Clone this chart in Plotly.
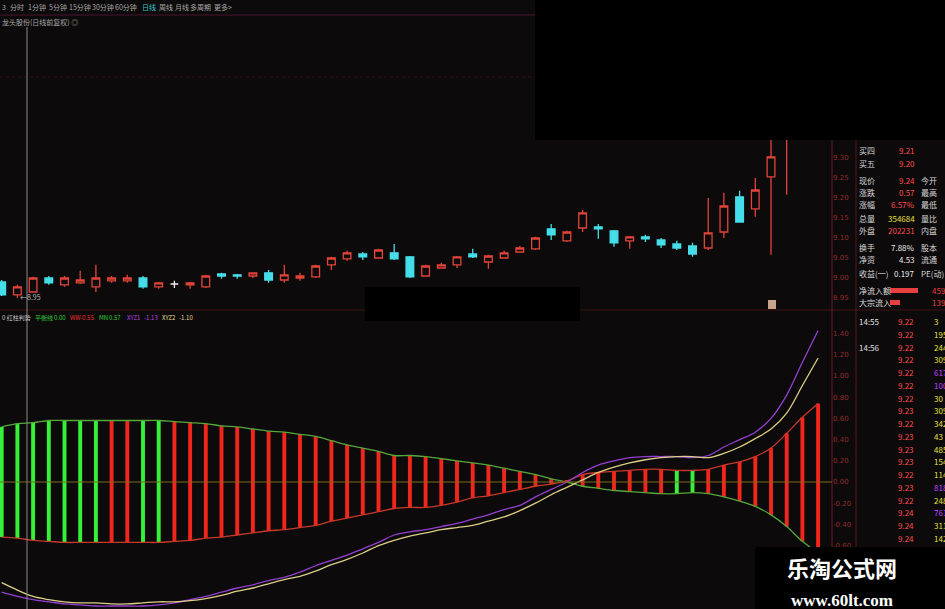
import plotly.graph_objects as go

# ---------------- data ----------------
idx = list(range(53))

opens = [8.990, 8.958, 8.965, 9.000, 8.983, 8.988, 8.978, 8.993, 8.993, 9.000,
         8.978, 8.985, 8.983, 8.978, 9.010, 9.008, 9.005, 9.013, 8.995, 9.000,
         9.003, 9.033, 9.048, 9.060, 9.050, 9.063, 9.053, 9.005, 9.025, 9.033,
         9.060, 9.040, 9.050, 9.065, 9.073, 9.123, 9.093, 9.125, 9.128, 9.118,
         9.093, 9.103, 9.095, 9.085, 9.080, 9.075, 9.115, 9.203, 9.173, 9.253,
         9.383, 9.460, 9.580]
highs = [8.995, 8.983, 9.003, 9.005, 9.005, 9.018, 9.033, 9.005, 9.008, 9.005,
         8.990, 8.993, 8.990, 9.008, 9.013, 9.010, 9.013, 9.020, 9.033, 9.013,
         9.033, 9.053, 9.068, 9.065, 9.073, 9.085, 9.055, 9.033, 9.038, 9.055,
         9.073, 9.058, 9.068, 9.080, 9.103, 9.135, 9.118, 9.170, 9.135, 9.120,
         9.105, 9.108, 9.100, 9.093, 9.088, 9.200, 9.213, 9.218, 9.250, 9.445,
         9.545, 9.620, 9.750]
lows = [8.955, 8.950, 8.963, 8.983, 8.978, 8.985, 8.965, 8.988, 8.988, 8.973,
        8.973, 8.975, 8.973, 8.975, 8.998, 8.998, 9.000, 8.988, 8.988, 8.993,
        9.000, 9.020, 9.043, 9.045, 9.048, 9.045, 9.000, 9.003, 9.023, 9.025,
        9.050, 9.023, 9.048, 9.063, 9.070, 9.095, 9.090, 9.115, 9.098, 9.078,
        9.073, 9.090, 9.075, 9.070, 9.053, 9.070, 9.100, 9.138, 9.153, 9.058,
        9.208, 9.420, 9.550]
closes = [8.958, 8.978, 9.000, 8.988, 9.000, 8.995, 9.000, 9.000, 9.000, 8.978,
          8.988, 8.985, 8.988, 9.005, 9.005, 9.005, 9.013, 8.995, 9.008, 9.005,
          9.030, 9.050, 9.063, 9.053, 9.070, 9.048, 9.003, 9.030, 9.033, 9.053,
          9.053, 9.055, 9.063, 9.075, 9.100, 9.108, 9.115, 9.163, 9.123, 9.088,
          9.103, 9.098, 9.083, 9.075, 9.060, 9.113, 9.180, 9.140, 9.220, 9.303,
          9.458, 9.580, 9.700]

# indicator 红柱判势
mn_line = [0.52, 0.55, 0.56, 0.58, 0.58, 0.58, 0.58, 0.58, 0.58, 0.58, 0.58,
           0.57, 0.56, 0.55, 0.53, 0.52, 0.50, 0.48, 0.47, 0.45, 0.43,
           0.39, 0.35, 0.32, 0.29, 0.25, 0.25, 0.24, 0.22, 0.20, 0.18,
           0.16, 0.13, 0.10, 0.07, 0.03, 0.00, -0.04, -0.06, -0.08, -0.09,
           -0.10, -0.11, -0.11, -0.10, -0.11, -0.14, -0.18, -0.23, -0.31, -0.42, -0.56, -0.67]
ww_line = [-0.52, -0.53, -0.55, -0.56, -0.57, -0.57, -0.57, -0.57, -0.57, -0.57, -0.57,
           -0.56, -0.55, -0.53, -0.52, -0.50, -0.48, -0.46, -0.45, -0.43, -0.41,
           -0.37, -0.34, -0.31, -0.28, -0.25, -0.24, -0.24, -0.22, -0.19, -0.15,
           -0.13, -0.10, -0.07, -0.04, -0.02, 0.01, 0.07, 0.09, 0.10, 0.11,
           0.12, 0.12, 0.11, 0.11, 0.12, 0.16, 0.19, 0.24, 0.32, 0.46, 0.61, 0.74]
xyz1 = [-1.04, -1.08, -1.11, -1.13, -1.15, -1.16, -1.17, -1.17, -1.17, -1.17, -1.16,
        -1.14, -1.11, -1.08, -1.04, -1.00, -0.97, -0.93, -0.90, -0.85, -0.79,
        -0.74, -0.69, -0.63, -0.57, -0.50, -0.47, -0.45, -0.42, -0.39, -0.35,
        -0.31, -0.26, -0.22, -0.14, -0.07, 0.00, 0.09, 0.16, 0.20, 0.23,
        0.24, 0.24, 0.24, 0.23, 0.25, 0.33, 0.40, 0.47, 0.60, 0.82, 1.13, 1.43]
xyz2 = [-0.95, -1.02, -1.08, -1.11, -1.13, -1.14, -1.14, -1.15, -1.15, -1.14, -1.13,
        -1.13, -1.12, -1.10, -1.07, -1.03, -1.00, -0.96, -0.92, -0.89, -0.84,
        -0.78, -0.73, -0.67, -0.60, -0.55, -0.51, -0.48, -0.45, -0.43, -0.41,
        -0.37, -0.33, -0.27, -0.20, -0.12, -0.05, 0.02, 0.09, 0.14, 0.18,
        0.21, 0.23, 0.24, 0.24, 0.23, 0.27, 0.33, 0.41, 0.50, 0.65, 0.91, 1.17]
bar_kind = "gggggggrrggrrrrrrrrrrrrrrrrrrrrrrrrrrrrrrrrggrrrrrrrr"

price_ticks = [8.95, 9.00, 9.05, 9.10, 9.15, 9.20, 9.25, 9.30]
ind_ticks = [1.4, 1.2, 1.0, 0.8, 0.6, 0.4, 0.2, 0.0, -0.2, -0.4, -0.6, -0.8, -1.0]

toolbar_items = ["3", "分时", "1分钟", "5分钟", "15分钟", "30分钟", "60分钟",
                 "日线", "周线", "月线", "多周期", "更多>"]
stock_title = "龙头股份(日线前复权) ◎"
low_mark = "←8.95"

ind_title = [("0 红柱判势", "#c8c8c8"), ("平衡线", "#2fd23a"), ("0.00", "#2fd23a"),
             ("WW", "#f03030"), ("-0.55", "#f03030"), ("MN", "#2fd23a"), ("0.57", "#2fd23a"),
             ("XYZ1", "#b444e8"), ("-1.13", "#b444e8"), ("XYZ2", "#e6dc96"), ("-1.10", "#e6dc96")]

quote_labels = ["买四", "买五", "现价", "涨跌", "涨幅", "总量", "外盘", "换手", "净资",
                "收益(一)", "净流入额", "大宗流入"]
quote_values = ["9.21", "9.20", "9.24", "0.57", "6.57%", "354684", "202231", "7.88%",
                "4.53", "0.197", "4598", "1398"]
quote_right = ["", "", "今开", "最高", "最低", "量比", "内盘", "股本", "流通", "PE(动)", "", ""]

tick_times = ["14:55", "", "14:56", "", "", "", "", "", "", "", "", "", "", "", "", "", "", ""]
tick_prices = ["9.22", "9.22", "9.22", "9.22", "9.22", "9.22", "9.22", "9.23", "9.22",
               "9.23", "9.23", "9.23", "9.22", "9.23", "9.22", "9.24", "9.24", "9.24"]
tick_vols = ["3", "195", "244", "309", "617", "1003", "30", "309", "342", "43", "485",
             "154", "114", "818", "248", "761", "311", "142"]
tick_big = [False, False, False, False, True, True, False, False, False, False, False,
            False, False, True, False, True, False, False]

watermark_name = "乐淘公式网"
watermark_url = "www.60lt.com"

# ---------------- styling / layout ----------------
W, H = 945, 609
BG = "#0c0a0a"
RED = "#e2443a"
CYAN = "#44dde8"
AXC = "#8e2c2c"
CJK = "Noto Sans CJK SC"


def px(x):
    return x / W


def py(y):
    return 1 - y / H


X0 = -1.7 / 15.7
X1 = (832 - 1.7) / 15.7

up = [i for i in idx if closes[i] > opens[i]]
dn = [i for i in idx if closes[i] < opens[i]]
dj = [i for i in idx if closes[i] == opens[i]]

fig = go.Figure()


def add_candles(sel, lc, fc):
    fig.add_trace(go.Candlestick(
        x=[idx[i] for i in sel], open=[opens[i] for i in sel], high=[highs[i] for i in sel],
        low=[lows[i] for i in sel], close=[closes[i] for i in sel],
        increasing=dict(line=dict(color=lc, width=1.3), fillcolor=fc),
        decreasing=dict(line=dict(color=lc, width=1.3), fillcolor=fc),
        whiskerwidth=0, xaxis="x", yaxis="y", showlegend=False, hoverinfo="skip"))


add_candles(up, RED, BG)
add_candles(dn, CYAN, CYAN)
add_candles(dj, "#f0f0f0", "#f0f0f0")

bar_col = ["#36f03a" if k == "g" else "#f0261c" for k in bar_kind]
fig.add_trace(go.Bar(x=idx, y=[mn_line[i] - ww_line[i] for i in idx], base=ww_line,
                     width=0.25, marker=dict(color=bar_col, line=dict(width=0)),
                     xaxis="x2", yaxis="y2", showlegend=False, hoverinfo="skip"))
fig.add_trace(go.Scatter(x=idx, y=mn_line, mode="lines",
                         line=dict(color="#55a83c", width=1.3, shape="spline"),
                         xaxis="x2", yaxis="y2", showlegend=False, hoverinfo="skip"))
fig.add_trace(go.Scatter(x=idx, y=ww_line, mode="lines",
                         line=dict(color="#c8382a", width=1.3, shape="spline"),
                         xaxis="x2", yaxis="y2", showlegend=False, hoverinfo="skip"))
fig.add_trace(go.Scatter(x=idx, y=xyz1, mode="lines",
                         line=dict(color="#9440d0", width=1.3, shape="spline"),
                         xaxis="x2", yaxis="y2", showlegend=False, hoverinfo="skip"))
fig.add_trace(go.Scatter(x=idx, y=xyz2, mode="lines",
                         line=dict(color="#dccf86", width=1.3, shape="spline"),
                         xaxis="x2", yaxis="y2", showlegend=False, hoverinfo="skip"))

shapes = []


def hline(y, x0, x1, color, width=1, dash="solid"):
    shapes.append(dict(type="line", xref="paper", yref="paper", x0=px(x0), x1=px(x1),
                       y0=py(y), y1=py(y), line=dict(color=color, width=width, dash=dash)))


def vline(x, y0, y1, color, width=1):
    shapes.append(dict(type="line", xref="paper", yref="paper", x0=px(x), x1=px(x),
                       y0=py(y0), y1=py(y1), line=dict(color=color, width=width)))


def rect(x0, y0, x1, y1, color, layer="above"):
    shapes.append(dict(type="rect", xref="paper", yref="paper", x0=px(x0), x1=px(x1),
                       y0=py(y1), y1=py(y0), fillcolor=color, line=dict(width=0), layer=layer))


hline(15, 0, 945, "#4c1430")
hline(77, 0, 832, "#2e1014", dash="dot")
hline(310, 0, 945, "#3c1212")
vline(832, 0, 609, "#6e1c1c")
vline(856, 0, 609, "#5a1616")
vline(27, 27, 609, "#8a8a8a")
shapes.append(dict(type="line", xref="paper", yref="y2", x0=0, x1=px(832), y0=0, y1=0,
                   line=dict(color="#7d6a22", width=1)))
rect(535, 0, 945, 140, "#000000")
rect(365, 287, 580, 321, "#000000")
rect(755, 547, 945, 609, "#000000")
rect(768, 300, 776, 309, "#c9a48a")
rect(890, 288, 918, 293, "#e64040")
rect(890, 300, 900, 305, "#e64040")

ann = []


def txt(x, y, s, color, size=7, anchor="left", family=CJK):
    ann.append(dict(text=s, xref="paper", yref="paper", x=px(x), y=py(y), xanchor=anchor,
                    yanchor="middle", showarrow=False,
                    font=dict(family=family, size=size, color=color)))


toolbar_x = [0, 8, 26, 47, 67, 90, 113, 140, 157, 173, 188, 212]
for s, x in zip(toolbar_items, toolbar_x):
    txt(x, 7, s, "#35c8d0" if s == "日线" else "#a8a8a8", size=7)
txt(0, 22, stock_title, "#a8a8a8", size=7)
txt(18, 297, low_mark, "#b8b8b8", size=7)

title_x = [0, 33, 52, 68, 78, 97, 107, 125, 142, 160, 177]
for (s, c), x in zip(ind_title, title_x):
    txt(x, 317, s, c, size=6)

quote_y = [150, 163, 181, 193, 205, 218, 230, 248, 260, 273, 290, 303]
for i, y in enumerate(quote_y):
    lab = quote_labels[i]
    txt(857, y, lab, "#d8d8d8", size=8)
    val = quote_values[i]
    if i >= 10:
        txt(930, y, val, "#e64040", size=8)
    else:
        if i == 5:
            vc = "#e6e040"
        elif i in (7, 8, 9):
            vc = "#e8e8e8"
        else:
            vc = "#ff4a4a"
        txt(917, y, val, vc, size=8, anchor="right")
    if quote_right[i]:
        txt(919, y, quote_right[i], "#d8d8d8", size=8)

for i in range(len(tick_prices)):
    y = 321.7 + 12.75 * i
    if tick_times[i]:
        txt(857, y, tick_times[i], "#e0e0e0", size=8)
    txt(916, y, tick_prices[i], "#ff4a4a", size=8, anchor="right")
    txt(932, y, tick_vols[i], "#c040ff" if tick_big[i] else "#e6e040", size=8)

wm_text = ("<b>" + watermark_name + "</b><br>"
           "<span style='font-family:Liberation Serif;font-size:17px'><b>"
           + watermark_url + "</b></span>")
txt(842, 580, wm_text, "#ffffff", size=22, anchor="center")

fig.update_layout(
    width=W, height=H, margin=dict(l=0, r=0, t=0, b=0),
    paper_bgcolor=BG, plot_bgcolor=BG, showlegend=False,
    xaxis=dict(domain=[0, px(832)], range=[X0, X1], visible=False,
               rangeslider=dict(visible=False), anchor="y", fixedrange=True),
    xaxis2=dict(domain=[0, px(832)], range=[X0, X1], visible=False, anchor="y2"),
    yaxis=dict(domain=[py(308), py(30)], range=[8.925, 9.62], side="right", anchor="x",
               tickvals=price_ticks, ticktext=[f"{v:.2f}" for v in price_ticks],
               tickfont=dict(size=7, color=AXC, family="DejaVu Sans"),
               showgrid=False, zeroline=False, ticks="", showline=False),
    yaxis2=dict(domain=[0, py(312)], range=[(482 - 609) / 106, (482 - 312) / 106],
                side="right", anchor="x2",
                tickvals=ind_ticks, ticktext=[f"{v:.2f}" for v in ind_ticks],
                tickfont=dict(size=7, color=AXC, family="DejaVu Sans"),
                showgrid=False, zeroline=False, ticks="", showline=False),
    shapes=shapes, annotations=ann,
)

fig.write_html("out.html",
               config={"displayModeBar": False},
               post_script="document.body.style.margin='0px';"
                           "document.body.style.overflow='hidden';"
                           "document.body.style.background='#0c0a0a';")
